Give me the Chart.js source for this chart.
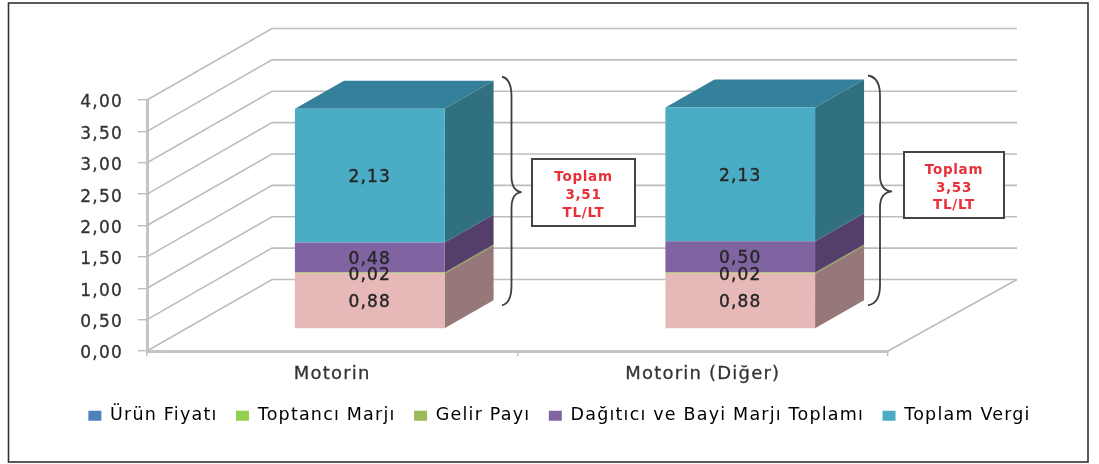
<!DOCTYPE html>
<html><head><meta charset="utf-8">
<style>html,body{margin:0;padding:0;background:#fff}canvas{display:block;filter:blur(0.7px)}</style>
<script src="https://cdn.jsdelivr.net/npm/chart.js@4"></script>
</head><body>
<div style="width:1099px;height:464px"><canvas id="c" width="1099" height="464"></canvas></div>
<script>
const categories = ['Motorin', 'Motorin (Diğer)'];
const urunFiyati = [0.88, 0.88];
const toptanciMarji = [0, 0];
const gelirPayi = [0.02, 0.02];
const bayiMarji = [0.48, 0.50];
const toplamVergi = [2.13, 2.13];
const seriesNames = ['Ürün Fiyatı', 'Toptancı Marjı', 'Gelir Payı', 'Dağıtıcı ve Bayi Marjı Toplamı', 'Toplam Vergi'];
const totals = ['3,51', '3,53'];

const FONT = '"DejaVu Sans"';
const SPACING = '1.2px';
const fmt = v => v.toFixed(2).replace('.', ',');

// 3-D geometry of the picture
const WALL = {dx: 125, dy: -71.5, right: 1017};
const BAR_SHIFT = {dx: 37.5, dy: -22};
const DEPTH = {dx: 49, dy: -28};
const faces = [
  {front:'#e6b9b8', side:'#967878', top:'#b79493', legend:'#4f81bd'},
  {front:'#92d050', side:'#5f8734', top:'#75a640', legend:'#92d050'},
  {front:'#b9c56c', side:'#87964f', top:'#9bbb59', legend:'#9bbb59'},
  {front:'#8064a2', side:'#533f6a', top:'#665082', legend:'#8064a2'},
  {front:'#4bacc6', side:'#31707f', top:'#35809a', legend:'#4bacc6'}
];
const boxes = [
  {x:532, y:159, w:103, h:67, brace:[502,511.5,521.5]},
  {x:904, y:152, w:100, h:66, brace:[868,880,892]}
];

const scene = {
  id:'scene',
  beforeLayout(chart){ chart.ctx.letterSpacing = SPACING; },
  beforeDraw(chart){
    const c = chart.ctx;
    c.letterSpacing = SPACING;
    // DejaVu digits sit high on a "middle" baseline: nudge the y tick labels onto their ticks
    chart.scales.y.getLabelItems().forEach(it=>{
      if(!it.options.nudged){ it.options.translation[1]+=3; it.options.nudged=true; }
    });
    c.save(); c.fillStyle='#fff'; c.fillRect(0,0,chart.width,chart.height);
    c.strokeStyle='#333'; c.lineWidth=1.6; c.strokeRect(8.5,3,1079.5,459); c.restore();
  },
  beforeDatasetsDraw(chart){
    const c = chart.ctx, y = chart.scales.y, a = chart.chartArea;
    c.save();
    c.strokeStyle='#bdbdbd'; c.lineWidth=1.6;
    y.ticks.forEach(t=>{
      const p = y.getPixelForValue(t.value);
      c.beginPath(); c.moveTo(a.left,p); c.lineTo(a.left+WALL.dx,p+WALL.dy); c.lineTo(WALL.right,p+WALL.dy); c.stroke();
    });
    const p0 = y.getPixelForValue(0);
    c.beginPath(); c.moveTo(a.right,p0); c.lineTo(WALL.right,p0+WALL.dy); c.stroke();
    c.restore();

    c.save();
    c.translate(BAR_SHIFT.dx, BAR_SHIFT.dy);
    chart.data.datasets.forEach((ds,i)=>{
      chart.getDatasetMeta(i).data.forEach((bar,j)=>{
        if(!ds.data[j]) return;
        const r = bar.x+bar.width/2, tp = bar.y, bt = bar.base;
        c.fillStyle = faces[i].side;
        c.beginPath(); c.moveTo(r,tp); c.lineTo(r+DEPTH.dx,tp+DEPTH.dy); c.lineTo(r+DEPTH.dx,bt+DEPTH.dy); c.lineTo(r,bt); c.closePath(); c.fill();
        if(i===chart.data.datasets.length-1){
          const l = bar.x-bar.width/2;
          c.fillStyle = faces[i].top;
          c.beginPath(); c.moveTo(l,tp); c.lineTo(l+DEPTH.dx,tp+DEPTH.dy); c.lineTo(r+DEPTH.dx,tp+DEPTH.dy); c.lineTo(r,tp); c.closePath(); c.fill();
        }
      });
    });
  },
  afterDatasetsDraw(chart){
    const c = chart.ctx;
    c.font = '17px '+FONT; c.textAlign='center'; c.textBaseline='middle';
    chart.data.datasets.forEach((ds,i)=>{
      chart.getDatasetMeta(i).data.forEach((bar,j)=>{
        if(!ds.data[j]) return;
        c.fillStyle = '#262626'; c.strokeStyle='#262626'; c.lineWidth=0.4;
        const ly=(bar.y+bar.base)/2+2;
        c.fillText(fmt(ds.data[j]), bar.x, ly);
        c.strokeText(fmt(ds.data[j]), bar.x, ly);
      });
    });
    c.restore();

    c.save();
    const n = chart.data.datasets.length, first = chart.getDatasetMeta(0), last = chart.getDatasetMeta(n-1);
    boxes.forEach((b,j)=>{
      const y1 = last.data[j].y+BAR_SHIFT.dy+DEPTH.dy-4, y2 = first.data[j].base+BAR_SHIFT.dy+DEPTH.dy+5, ym=(y1+y2)/2+1;
      const [e,s,t] = b.brace;
      c.strokeStyle='#3f3f3f'; c.lineWidth=1.8;
      c.beginPath();
      c.moveTo(e,y1); c.quadraticCurveTo(s,y1+2,s,y1+20); c.lineTo(s,ym-16); c.quadraticCurveTo(s,ym-1,t,ym);
      c.quadraticCurveTo(s,ym+1,s,ym+16); c.lineTo(s,y2-20); c.quadraticCurveTo(s,y2-2,e,y2);
      c.stroke();
      c.fillStyle='#fff'; c.strokeStyle='#444'; c.lineWidth=2;
      c.fillRect(b.x,b.y,b.w,b.h); c.strokeRect(b.x,b.y,b.w,b.h);
      c.letterSpacing='0.7px';
      c.fillStyle='#e8303a'; c.font='bold 13.5px '+FONT; c.textAlign='center'; c.textBaseline='middle';
      const cx=b.x+b.w/2, cy=b.y+b.h/2;
      c.fillText('Toplam',cx,cy-15); c.fillText(totals[j],cx,cy+3); c.fillText('TL/LT',cx,cy+20.5);
      c.letterSpacing=SPACING;
    });
    c.restore();
  }
};

const series = [urunFiyati, toptanciMarji, gelirPayi, bayiMarji, toplamVergi];
new Chart(document.getElementById('c'), {
  type:'bar',
  data:{labels:categories, datasets: series.map((d,i)=>({label:seriesNames[i], data:d, backgroundColor:faces[i].front, borderWidth:0}))},
  options:{
    responsive:false, animation:false,
    layout:{padding:{left:20,top:100,right:0,bottom:29.5}},
    datasets:{bar:{barPercentage:0.404, categoryPercentage:1}},
    plugins:{
      tooltip:{enabled:false},
      legend:{position:'bottom',
        labels:{font:{family:FONT,size:17.5},color:'#333',boxWidth:13,boxHeight:10,padding:18.5,
          generateLabels:chart=>chart.data.datasets.map((d,i)=>({text:d.label,fillStyle:faces[i].legend,strokeStyle:faces[i].legend,lineWidth:0,datasetIndex:i}))}}
    },
    scales:{
      x:{stacked:true,
        afterFit(s){s.height=37.5;},
        grid:{display:true,drawOnChartArea:false,color:'#bdbdbd',lineWidth:1.4,tickLength:5},
        border:{color:'#c4c4c4',width:3},
        ticks:{font:{family:FONT,size:18},color:'#333',textStrokeColor:'#333',textStrokeWidth:0.3,padding:8,maxRotation:0}},
      y:{stacked:true,min:0,max:4,
        afterFit(s){s.width=127;},
        grid:{display:true,drawOnChartArea:false,color:'#bdbdbd',lineWidth:1.4,tickLength:9},
        border:{color:'#c4c4c4',width:3},
        ticks:{stepSize:0.5,font:{family:FONT,size:17},color:'#333',textStrokeColor:'#333',textStrokeWidth:0.3,padding:15,callback:v=>fmt(v)}},
      yRight:{position:'right',min:0,max:4,afterFit(s){s.width=211;},
        grid:{display:false},border:{display:false},ticks:{display:false}}
    }
  },
  plugins:[scene]
});
</script>
</body></html>
